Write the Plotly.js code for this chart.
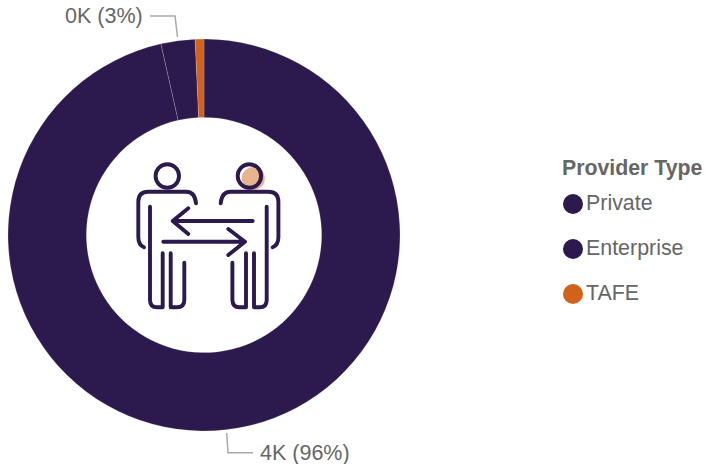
<!DOCTYPE html>
<html>
<head>
<meta charset="utf-8">
<script src="https://cdn.plot.ly/plotly-3.0.1.min.js"></script>
<style>html,body{margin:0;padding:0;background:#fff}#chart{width:705px;height:464px}</style>
</head>
<body>
<div id="chart"></div>
<script>
const categories = ["Private", "Enterprise", "TAFE"];
const seriesValues = [4020, 117, 30];
const sliceColors = ["#2c1a4f", "#2c1a4f", "#d2611a"];
const sliceLabels = ["4K (96%)", "0K (3%)", ""];
const legendTitle = "Provider Type";

const W = 705, H = 464;
const X = v => v / W, Y = v => 1 - v / H;
const textColor = "#666666", fontFamily = "Liberation Sans, Arial, sans-serif";

const iconDark = "#2c1a4f";
const iconSvg = `<svg xmlns="http://www.w3.org/2000/svg" width="680" height="680" viewBox="0 0 170 170">
<circle cx="133.3" cy="28.5" r="11.5" fill="#e8b48f"/>
<g fill="none" stroke="${iconDark}" stroke-width="3.9" stroke-linecap="round" stroke-linejoin="round">
<circle cx="47.3" cy="26" r="11.7"/><circle cx="129.4" cy="26" r="11.7"/>
<g id="p"><path d="M76 53.3Q75 41.7 66 41.7H28.3Q18.3 41.7 18.3 51.7V87Q18.3 95 24 97.3"/>
<path d="M30 56.7V150Q30 157.3 37 157.3H42.7V103.3"/>
<path d="M50.7 103.3V157.3H57Q64.3 157.3 64.3 150V112.7"/></g>
<g transform="translate(176.7 0) scale(-1 1)"><path d="M76 53.3Q75 41.7 66 41.7H28.3Q18.3 41.7 18.3 51.7V87Q18.3 95 24 97.3"/>
<path d="M30 56.7V150Q30 157.3 37 157.3H42.7V103.3"/>
<path d="M50.7 103.3V157.3H57Q64.3 157.3 64.3 150V112.7"/></g>
<path d="M132.7 71H52.7M68.3 58.3L52.7 71L68.3 84"/>
<path d="M43.3 91.7H125M108.3 79L125 91.7L108.3 105"/>
</g></svg>`;

const legendRowsY = [203, 248, 293];
const shapes = [
  {type:"path", xref:"paper", yref:"paper", line:{color:"#a9a9a9", width:1.5},
   path:`M${X(150)},${Y(16)} L${X(175)},${Y(16)} L${X(177.5)},${Y(37)}`},
  {type:"path", xref:"paper", yref:"paper", line:{color:"#a9a9a9", width:1.5},
   path:`M${X(226.7)},${Y(433)} L${X(228)},${Y(452.7)} L${X(253)},${Y(452.7)}`}
];
categories.forEach((c,i)=>{
  shapes.push({type:"circle", xref:"paper", yref:"paper", line:{width:0}, fillcolor:sliceColors[i],
    x0:X(563), x1:X(583), y0:Y(legendRowsY[i]-9), y1:Y(legendRowsY[i]+11)});
});

const ann = (text,x,y,size,bold) => ({
  text: bold ? `<b>${text}</b>` : text, x:X(x), y:Y(y), xref:"paper", yref:"paper",
  xanchor:"left", yanchor:"middle", showarrow:false,
  font:{family:fontFamily, size:size, color:textColor}
});
const annotations = [
  ann(sliceLabels[1], 63, 16, 21.5),
  ann(sliceLabels[0], 258, 453, 21.5),
  ann(legendTitle, 560, 168, 21.3, true),
  ...categories.map((c,i)=>ann(c, 584, legendRowsY[i], 21.4))
];

Plotly.newPlot("chart", [{
  type:"pie", labels:categories, values:seriesValues, sort:false, direction:"clockwise", rotation:0,
  hole:0.6, textinfo:"none", showlegend:false,
  marker:{colors:sliceColors, line:{color:"rgba(255,255,255,0.45)", width:0.4}},
  domain:{x:[X(8),X(400)], y:[Y(431),Y(39)]}
}], {
  width:W, height:H, margin:{l:0,r:0,t:0,b:0}, showlegend:false,
  paper_bgcolor:"#fff", plot_bgcolor:"#fff",
  shapes, annotations,
  images:[{source:"data:image/svg+xml;charset=utf-8,"+encodeURIComponent(iconSvg), xref:"paper", yref:"paper",
    x:X(120), y:Y(150), sizex:170/W, sizey:170/H, sizing:"stretch", xanchor:"left", yanchor:"top", layer:"above"}]
}, {displayModeBar:false, staticPlot:true});
</script>
</body>
</html>
